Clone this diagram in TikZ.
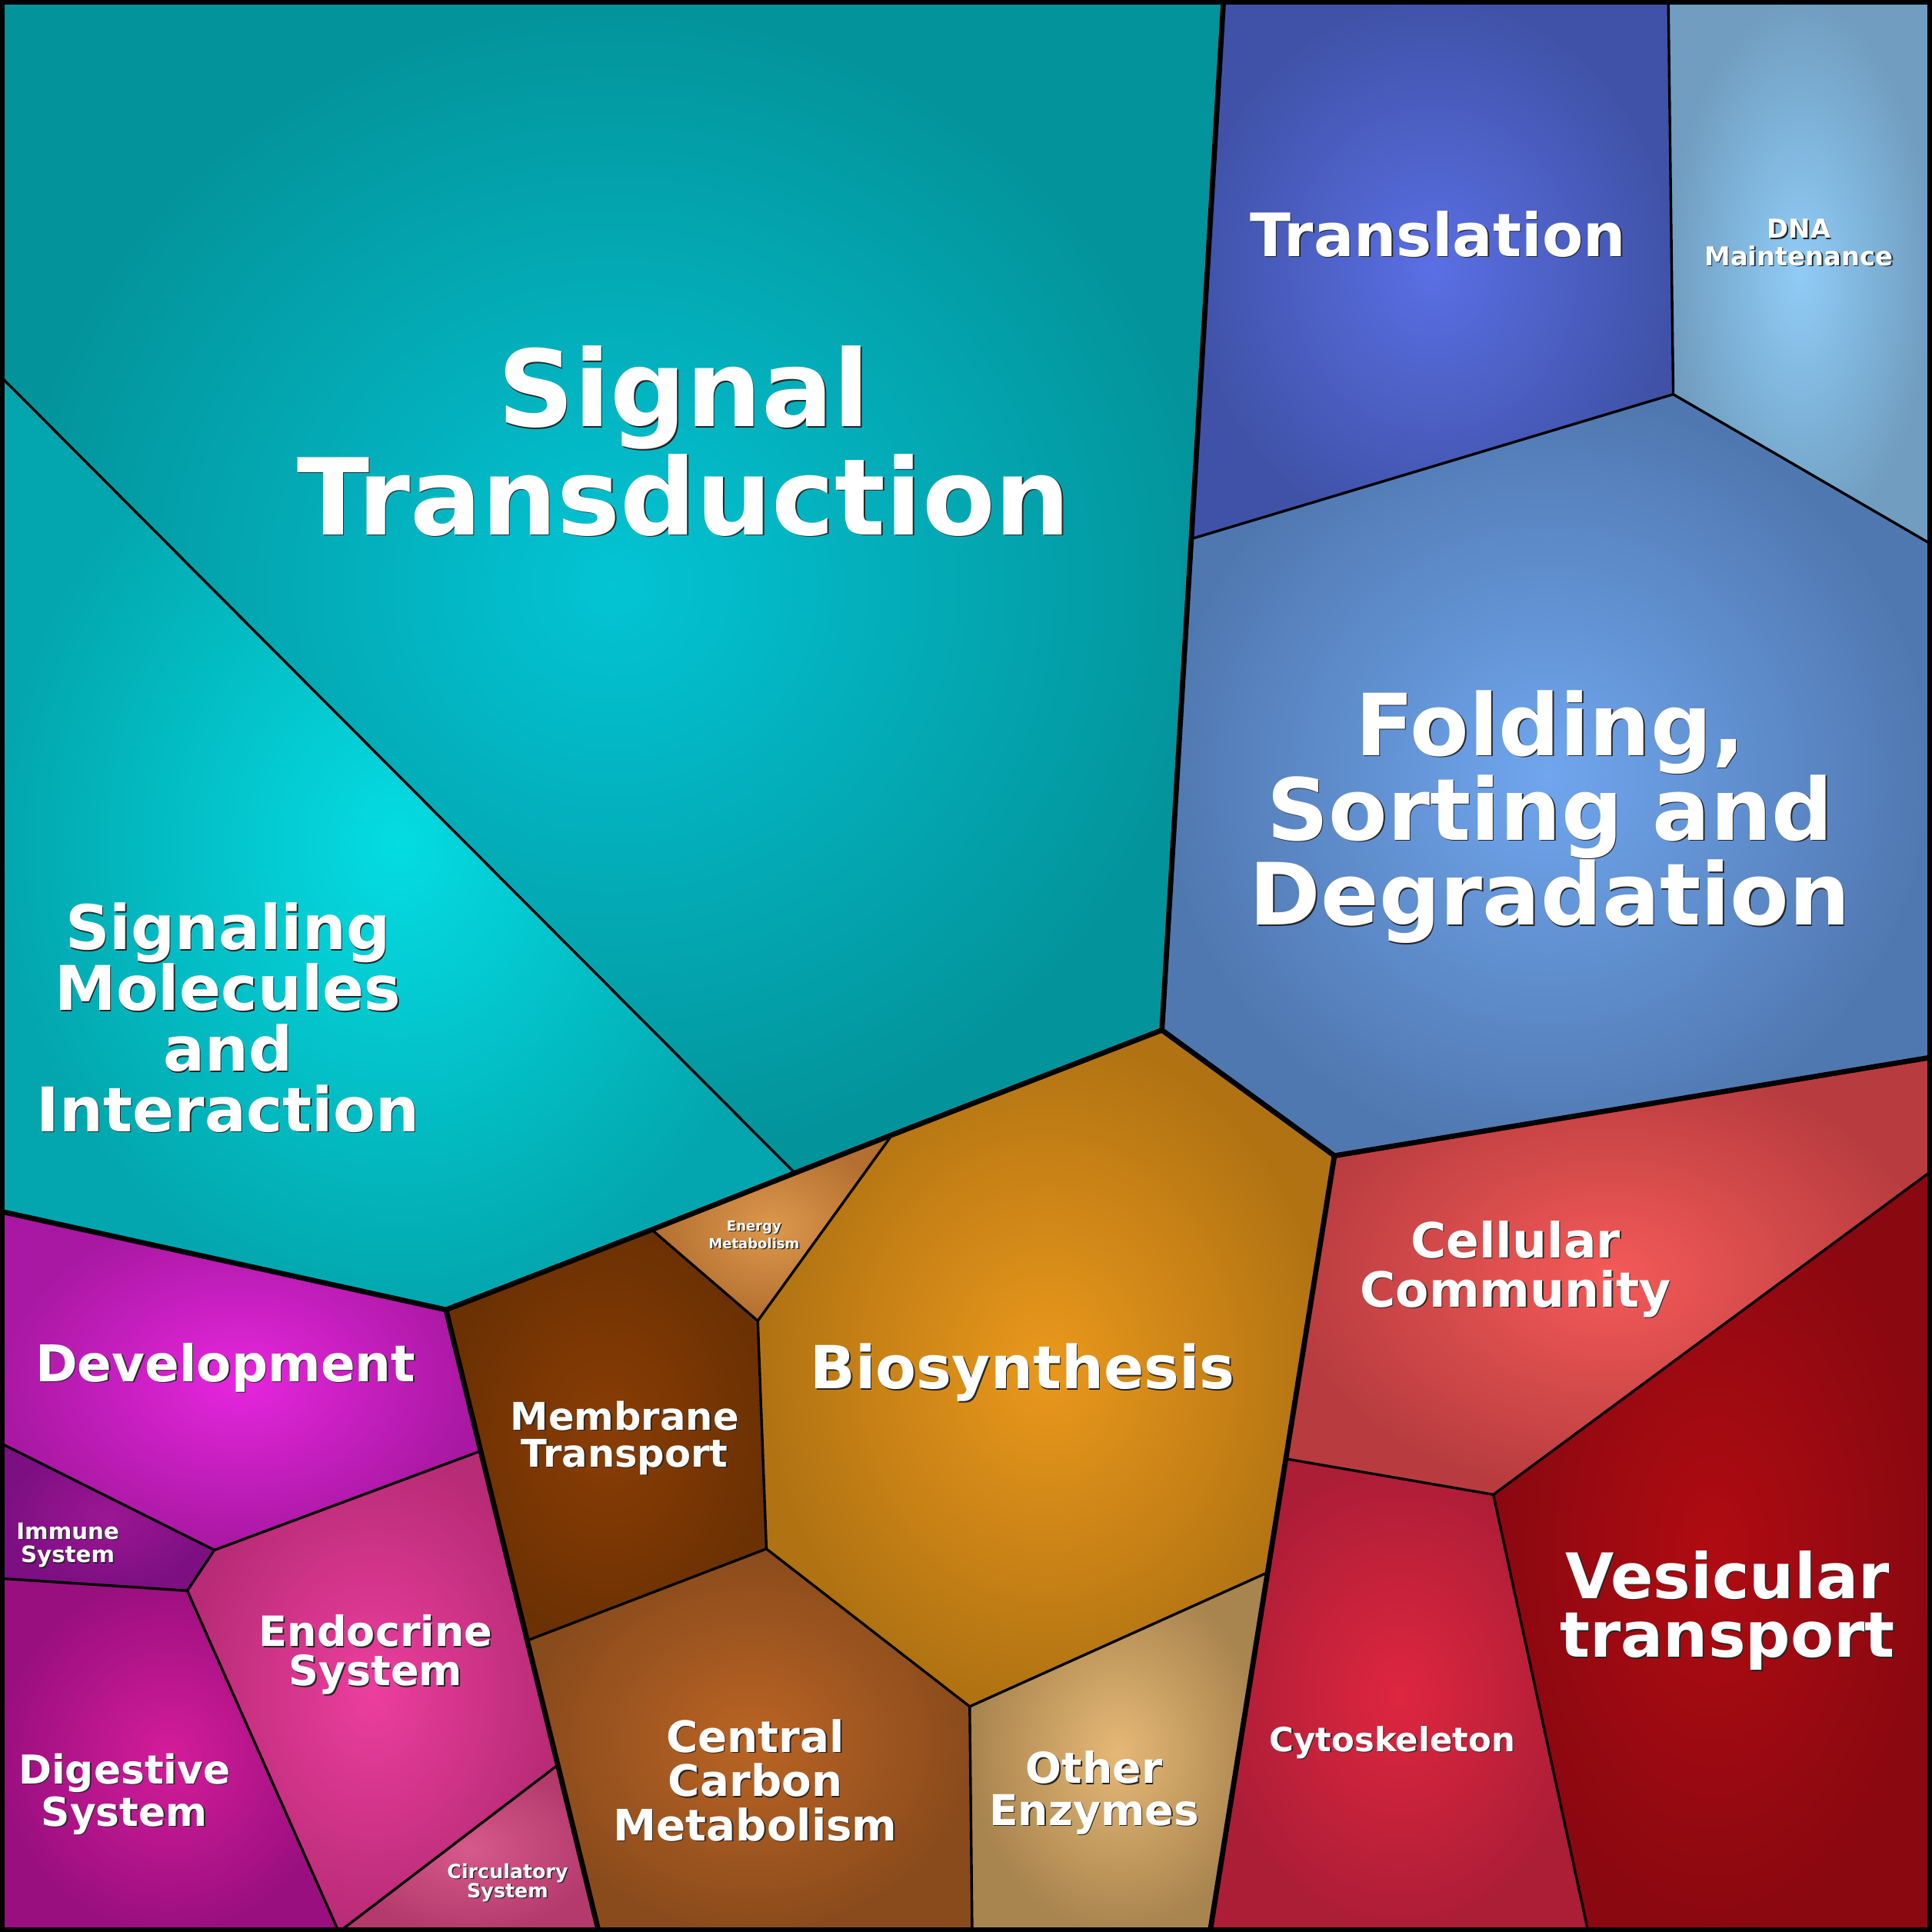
\documentclass[tikz,border=0pt]{standalone}
\usepackage{fontspec}
\setmainfont{DejaVu Sans}
\usetikzlibrary{calc}
\definecolor{stI}{HTML}{03C4D4}\definecolor{stO}{HTML}{03939A}
\definecolor{smI}{HTML}{04DCE2}\definecolor{smO}{HTML}{03A6AE}
\definecolor{trI}{HTML}{5A6FE4}\definecolor{trO}{HTML}{4052A8}
\definecolor{dnI}{HTML}{90CCF6}\definecolor{dnO}{HTML}{709DC0}
\definecolor{foI}{HTML}{70A6EE}\definecolor{foO}{HTML}{5078B0}
\definecolor{ccI}{HTML}{F45A58}\definecolor{ccO}{HTML}{B83C3F}
\definecolor{veI}{HTML}{B00B12}\definecolor{veO}{HTML}{8A0810}
\definecolor{cyI}{HTML}{DE2640}\definecolor{cyO}{HTML}{AC1D36}
\definecolor{oeI}{HTML}{E6B876}\definecolor{oeO}{HTML}{A8844E}
\definecolor{bsI}{HTML}{EA981C}\definecolor{bsO}{HTML}{B07212}
\definecolor{emI}{HTML}{DC984C}\definecolor{emO}{HTML}{B36E30}
\definecolor{mtI}{HTML}{8A3D05}\definecolor{mtO}{HTML}{6C3103}
\definecolor{cmI}{HTML}{BA6424}\definecolor{cmO}{HTML}{8A4B1C}
\definecolor{deI}{HTML}{E626DE}\definecolor{deO}{HTML}{A818A2}
\definecolor{imI}{HTML}{9C1694}\definecolor{imO}{HTML}{7C0F82}
\definecolor{enI}{HTML}{EC3E9E}\definecolor{enO}{HTML}{B82B76}
\definecolor{diI}{HTML}{D41C9A}\definecolor{diO}{HTML}{9A0F80}
\definecolor{ciI}{HTML}{D65A8A}\definecolor{ciO}{HTML}{B43A6E}
\begin{document}
\begin{tikzpicture}[x=0.01cm,y=-0.01cm,
 thin line/.style={line width=0.6pt,line join=round},
 thick line/.style={line width=1.2pt,line join=round},
 lbl/.style={text=white,align=center,inner sep=0},
 shd/.style={text=black!85,align=center,inner sep=0}]
\newcommand\cell[3]{\shade[inner color=#2,outer color=#3] #1;}
\newcommand\lab[5]{% name, pos, size, leading, text
 \node[shd,font=\fontsize{#3}{#4}\selectfont\bfseries] (#1s) at ($(#2)+(0.9,0.9)$) {#5};
 \node[lbl,font=\fontsize{#3}{#4}\selectfont\bfseries] (#1) at (#2) {#5};}
\useasboundingbox (0,0) rectangle (1568,1568);
% coordinates
\coordinate (tl) at (0,0); \coordinate (tr) at (1568,0);
\coordinate (bl) at (0,1568); \coordinate (br) at (1568,1568);
\coordinate (a1) at (993,0); \coordinate (a2) at (943,836); \coordinate (a3) at (968,437);
\coordinate (b1) at (1354,0); \coordinate (b2) at (1358,320); \coordinate (b3) at (1568,442);
\coordinate (c1) at (1083,938); \coordinate (c2) at (1568,858);
\coordinate (d1) at (724,921); \coordinate (d2) at (645,952); \coordinate (d3) at (529,998); \coordinate (d4) at (362,1063);
\coordinate (s1) at (0,305); \coordinate (s2) at (0,983);
\coordinate (e1) at (615,1072); \coordinate (e2) at (622,1257); \coordinate (e3) at (429,1331);
\coordinate (f1) at (1027,1277); \coordinate (f2) at (982,1568); \coordinate (f3) at (789,1568); \coordinate (f4) at (787,1385);
\coordinate (g1) at (486,1568);
\coordinate (h1) at (1568,950); \coordinate (h2) at (1212,1213); \coordinate (h3) at (1044,1184); \coordinate (h4) at (1289,1568);
\coordinate (k1) at (389,1178); \coordinate (k2) at (174,1258); \coordinate (k3) at (0,1171);
\coordinate (k4) at (152,1291); \coordinate (k5) at (0,1281); \coordinate (k6) at (452,1433); \coordinate (k7) at (275,1568);
% cells
\cell{(tl)--(a1)--(a3)--(a2)--(d1)--(d2)--(s1)--cycle}{stI}{stO}
\cell{(s1)--(d2)--(d3)--(d4)--(s2)--cycle}{smI}{smO}
\cell{(a1)--(b1)--(b2)--(a3)--cycle}{trI}{trO}
\cell{(b1)--(tr)--(b3)--(b2)--cycle}{dnI}{dnO}
\cell{(a3)--(b2)--(b3)--(c2)--(c1)--(a2)--cycle}{foI}{foO}
\cell{(c1)--(c2)--(h1)--(h2)--(h3)--cycle}{ccI}{ccO}
\cell{(h1)--(br)--(h4)--(h2)--cycle}{veI}{veO}
\cell{(h3)--(h2)--(h4)--(f2)--(f1)--cycle}{cyI}{cyO}
\cell{(f1)--(f2)--(f3)--(f4)--cycle}{oeI}{oeO}
\cell{(d1)--(a2)--(c1)--(f1)--(f4)--(e2)--(e1)--cycle}{bsI}{bsO}
\cell{(d3)--(d1)--(e1)--cycle}{emI}{emO}
\cell{(d4)--(d3)--(e1)--(e2)--(e3)--cycle}{mtI}{mtO}
\cell{(e3)--(e2)--(f4)--(f3)--(g1)--cycle}{cmI}{cmO}
\cell{(s2)--(d4)--(k1)--(k2)--(k3)--cycle}{deI}{deO}
\cell{(k3)--(k2)--(k4)--(k5)--cycle}{imI}{imO}
\cell{(k2)--(k1)--(k6)--(k7)--(k4)--cycle}{enI}{enO}
\cell{(k5)--(k4)--(k7)--(bl)--cycle}{diI}{diO}
\cell{(k6)--(g1)--(k7)--cycle}{ciI}{ciO}
% thin borders
\draw[thin line] (s1)--(d2);
\draw[thin line] (b1)--(b2)--(b3); \draw[thin line] (a3)--(b2);
\draw[thin line] (d3)--(e1)--(d1); \draw[thin line] (e1)--(e2)--(e3); \draw[thin line] (e2)--(f4)--(f1); \draw[thin line] (f4)--(f3);
\draw[thin line] (h3)--(h2)--(h1); \draw[thin line] (h2)--(h4);
\draw[thin line] (k3)--(k2)--(k1); \draw[thin line] (k2)--(k4)--(k5); \draw[thin line] (k4)--(k7)--(k6);
% thick borders
\draw[thick line] (a1)--(a2)--(d1)--(d2)--(d3)--(d4)--(s2);
\draw[thick line] (d4)--(g1);
\draw[thick line] (a2)--(c1)--(c2); \draw[thick line] (c1)--(f2);
\draw[line width=2.2pt] (0,0) rectangle (1568,1568);
% labels
\lab{st}{555,358}{24.5}{25}{Signal\\Transduction}
\lab{sm}{185,826}{14.2}{14}{Signaling\\Molecules\\and\\Interaction}
\lab{tr}{1167,190}{13.8}{14}{Translation}
\lab{dna}{1460,197}{6}{6.3}{DNA\\Maintenance}
\lab{fo}{1258,663}{19.8}{19.6}{Folding,\\Sorting and\\Degradation}
\lab{dev}{183,1110}{11.7}{12}{Development}
\lab{bio}{830,1114}{13.7}{14}{Biosynthesis}
\lab{cc}{1230,1030}{11.2}{11.3}{Cellular\\Community}
\lab{ves}{1402,1307}{14.5}{13.6}{Vesicular\\transport}
\lab{mt}{507,1167}{8.8}{8.5}{Membrane\\Transport}
\lab{em}{612,1002}{3.2}{3.1}{Energy\\Metabolism}
\lab{ccm}{613,1445}{10}{10.2}{Central\\Carbon\\Metabolism}
\lab{oe}{888,1455}{9.8}{9.6}{Other\\Enzymes}
\lab{es}{305,1343}{9.6}{9.1}{Endocrine\\System}
\lab{ds}{101,1456}{9.2}{8.8}{Digestive\\System}
\lab{cy}{1130,1414}{7.7}{8}{Cytoskeleton}
\lab{is}{55,1254}{5.2}{5.4}{Immune\\System}
\lab{cs}{412,1528}{4.5}{4.5}{Circulatory\\System}
\end{tikzpicture}
\end{document}
